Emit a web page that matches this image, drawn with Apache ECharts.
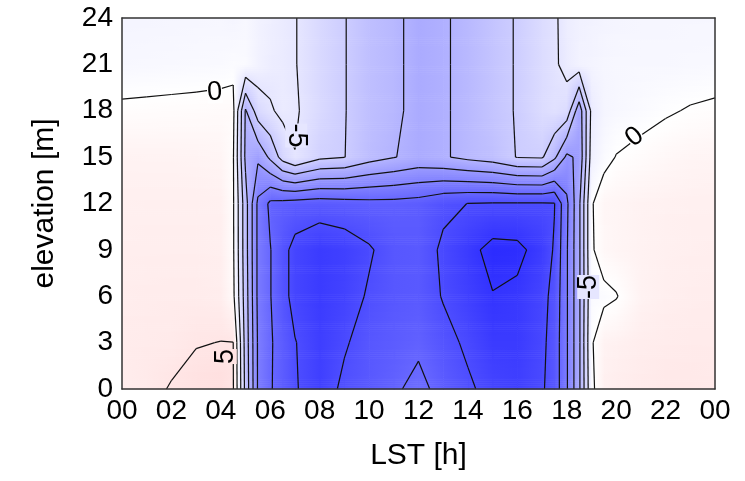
<!DOCTYPE html>
<html>
<head>
<meta charset="utf-8">
<script src="https://cdn.jsdelivr.net/npm/echarts@6/dist/echarts.min.js"></script>
<style>
  html, body { margin: 0; background: #fff; }
  #chart { width: 745px; height: 481px; }
</style>
</head>
<body>
<div id="chart"></div>
<script>
// grid nodes (hour of day, elevation in m)
const hours = [0, 1, 2, 3, 4, 4.5, 5, 5.5, 6, 6.5, 7, 8, 9, 10, 11, 12, 13, 14, 15, 16, 17, 17.5, 18, 18.5, 19, 19.5, 20, 21, 22, 23, 24];
const heights = [0, 3, 6, 9, 12, 15, 18, 21, 24];

// one row of values per elevation
const at0m  = [3.5, 4.2, 5.2, 6, 6.5, 5.3, -11.5, -25.5, -29.6, -32, -34.6, -37.5, -34, -32.5, -30.8, -28.5, -31.8, -34.3, -36.5, -37.5, -35.5, -33, -25.5, -16, -1, 3, 3.5, 4, 4.5, 4.5, 4.3];
const at3m  = [3.8, 4, 4.1, 4.85, 5.05, 5.05, -12, -25.5, -29.5, -32, -34.8, -37.8, -35.5, -33, -32, -31, -33.5, -35.8, -38.5, -38.5, -36, -33, -25.5, -16, -0.4, 2.5, 2.8, 3.5, 3.8, 4, 4];
const at6m  = [3.5, 3.7, 3.8, 3.8, 3.5, 1, -12.5, -26, -29.8, -33.5, -36.5, -38.5, -37, -34.5, -33, -32.5, -35.3, -37.5, -39.8, -39, -36.5, -33.5, -25.5, -16, -1, -0.8, -0.2, 2.5, 3.2, 3.5, 3.6];
const at9m  = [3.3, 3.4, 3.4, 3.4, 3.2, 0.6, -13, -26, -29.8, -33.5, -36.5, -38.5, -37.5, -35.5, -33, -32.5, -35.8, -38.5, -41.5, -41.2, -38, -34.5, -25.5, -16, -0.4, 1.5, 2, 2.5, 3, 3.2, 3.3];
const at12m = [3, 3.1, 3.1, 3.1, 3, 0.5, -13, -26, -31, -31.5, -32, -32.5, -32, -31.5, -31.5, -32, -34, -35.05, -35.3, -35.3, -35.3, -35.2, -26, -16, -0.3, 1.8, 2, 2.5, 2.8, 3, 3];
const at15m = [2.5, 2.4, 2.4, 2.3, 2, 0.4, -16, -19, -14, -8, -5.1, -9, -9.9, -13, -14.8, -16.5, -15.5, -13.8, -12.5, -9.8, -9.5, -14, -21, -19, -3, -1, 0.1, 0.8, 1.5, 2, 2.2];
const at18m = [0.5, 0.6, 0.7, 0.8, 1, 1, -15.5, -7.5, -5.5, -4, -4.5, -7.3, -9.8, -12.5, -14, -16.5, -15.5, -13.8, -11.5, -9.7, -6.8, -6, -7, -18, -4, -2, -1.5, -0.9, -0.3, 0.2, 0.5];
const at21m = [-1.5, -1.4, -1.3, -1.2, -1.1, -0.8, -1, -2.5, -3.5, -4, -4.8, -7.5, -9.8, -12.5, -14, -16.5, -15.5, -13.8, -11.5, -9.7, -6.8, -5.6, -3.8, -2.5, -2.2, -1.8, -1.6, -1.5, -1.5, -1.4, -1.3];
const at24m = [-2, -2, -1.9, -1.8, -1.7, -2, -1.5, -2.5, -3.2, -4, -4.8, -7.5, -9.8, -12.5, -14, -16.5, -15.5, -13.8, -11.5, -9.7, -6.8, -5.6, -3.5, -2.8, -2.5, -2.2, -2, -1.8, -1.8, -1.7, -1.7];
const rows = [at0m, at3m, at6m, at9m, at12m, at15m, at18m, at21m, at24m];

const levels = [-40, -35, -30, -25, -20, -15, -10, -5, 0, 5];
const hourTicks = ['00', '02', '04', '06', '08', '10', '12', '14', '16', '18', '20', '22', '00'];
const elevTicks = ['0', '3', '6', '9', '12', '15', '18', '21', '24'];

// where the contour values are written (hour, elevation, angle)
const contourLabels = [
  ['0', 3.75, 19.2, 4],
  ['-5', 7.05, 16.4, -90],
  ['0', 20.75, 16.3, 38],
  ['5', 4.2, 2.1, 90],
  ['-5', 18.87, 6.6, 90]
];

const FONT = '"Liberation Sans", Arial, sans-serif';
const SPAN = 50;

function colorOf(v) {
  const t = Math.min(1, Math.abs(v) / SPAN);
  const c = Math.round(255 * (1 - t));
  return v < 0 ? `rgb(${c},${c},255)` : `rgb(255,${c},${c})`;
}

function valueAt(x, y) {
  let i = 0, j = 0;
  while (i < hours.length - 2 && x > hours[i + 1]) i++;
  while (j < heights.length - 2 && y > heights[j + 1]) j++;
  const tx = (x - hours[i]) / (hours[i + 1] - hours[i]);
  const ty = (y - heights[j]) / (heights[j + 1] - heights[j]);
  const a = rows[j][i] + (rows[j][i + 1] - rows[j][i]) * tx;
  const b = rows[j + 1][i] + (rows[j + 1][i + 1] - rows[j + 1][i]) * tx;
  return a + (b - a) * ty;
}

const cells = [];
for (let j = 0; j < heights.length - 1; j++) {
  for (let i = 0; i < hours.length - 1; i++) cells.push([i, j]);
}

function cellCorners(api) {
  const i = api.value(0), j = api.value(1);
  return {
    p00: api.coord([hours[i], heights[j]]),
    p11: api.coord([hours[i + 1], heights[j + 1]]),
    v00: rows[j][i], v10: rows[j][i + 1],
    v01: rows[j + 1][i], v11: rows[j + 1][i + 1]
  };
}

// smooth shading: thin strips, each with a horizontal gradient
function renderShade(params, api) {
  const c = cellCorners(api);
  const left = c.p00[0], right = c.p11[0], bottom = c.p00[1], top = c.p11[1];
  const h = bottom - top;
  const n = Math.max(1, Math.ceil(h / 2));
  const children = [];
  for (let k = 0; k < n; k++) {
    const t = (k + 0.5) / n;
    const vl = c.v00 + (c.v01 - c.v00) * t;
    const vr = c.v10 + (c.v11 - c.v10) * t;
    const stops = [{ offset: 0, color: colorOf(vl) }];
    if (vl * vr < 0) stops.push({ offset: vl / (vl - vr), color: '#fff' });
    stops.push({ offset: 1, color: colorOf(vr) });
    children.push({
      type: 'rect',
      silent: true,
      shape: { x: left, y: bottom - h * (k + 1) / n, width: right - left + 0.6, height: h / n + 0.6 },
      style: { fill: new echarts.graphic.LinearGradient(0, 0, 1, 0, stops) }
    });
  }
  return { type: 'group', children };
}

// marching squares in each cell
function renderContour(params, api) {
  const c = cellCorners(api);
  const x0 = c.p00[0], x1 = c.p11[0], y0 = c.p00[1], y1 = c.p11[1];
  const children = [];
  levels.forEach(L => {
    const s00 = c.v00 >= L, s10 = c.v10 >= L, s11 = c.v11 >= L, s01 = c.v01 >= L;
    const cross = (va, vb) => (L - va) / (vb - va);
    const pts = {};
    if (s00 !== s10) pts.b = [x0 + (x1 - x0) * cross(c.v00, c.v10), y0];
    if (s10 !== s11) pts.r = [x1, y0 + (y1 - y0) * cross(c.v10, c.v11)];
    if (s01 !== s11) pts.t = [x0 + (x1 - x0) * cross(c.v01, c.v11), y1];
    if (s00 !== s01) pts.l = [x0, y0 + (y1 - y0) * cross(c.v00, c.v01)];
    const keys = Object.keys(pts);
    let pairs = [];
    if (keys.length === 2) pairs = [[pts[keys[0]], pts[keys[1]]]];
    else if (keys.length === 4) {
      const mid = (c.v00 + c.v10 + c.v11 + c.v01) / 4 >= L;
      if (mid === s00) pairs = [[pts.b, pts.r], [pts.t, pts.l]];
      else pairs = [[pts.l, pts.b], [pts.r, pts.t]];
    }
    pairs.forEach(p => children.push({
      type: 'line',
      silent: true,
      shape: { x1: p[0][0], y1: p[0][1], x2: p[1][0], y2: p[1][1] },
      style: { stroke: '#111', lineWidth: 1.2 }
    }));
  });
  return { type: 'group', children };
}

function renderLabel(params, api) {
  const item = contourLabels[params.dataIndex];
  const p = api.coord([item[1], item[2]]);
  return {
    type: 'text',
    x: p[0], y: p[1],
    rotation: item[3] * Math.PI / 180,
    silent: true,
    style: {
      text: item[0],
      fontSize: 27,
      fontFamily: FONT,
      fill: '#000',
      align: 'center',
      verticalAlign: 'middle',
      lineHeight: 22,
      backgroundColor: colorOf(valueAt(item[1], item[2]))
    }
  };
}

const frame = { show: true, onZero: false, lineStyle: { color: '#333', width: 1.5 } };

const chart = echarts.init(document.getElementById('chart'), null, { renderer: 'canvas' });
chart.setOption({
  animation: false,
  backgroundColor: '#fff',
  grid: { left: 122, right: 30, top: 18, bottom: 92, containLabel: false },
  xAxis: [
    {
      type: 'value', min: 0, max: 24, interval: 2, z: 10,
      axisLine: frame, axisTick: { show: false }, splitLine: { show: false },
      axisLabel: { fontSize: 28, color: '#000', fontFamily: FONT, margin: 8,
        formatter: v => hourTicks[Math.round(v / 2)] },
      name: 'LST [h]', nameLocation: 'middle', nameGap: 52,
      nameTextStyle: { fontSize: 30, color: '#000', fontFamily: FONT }
    },
    {
      type: 'value', min: 0, max: 24, position: 'top', z: 10,
      axisLine: frame, axisTick: { show: false }, axisLabel: { show: false }, splitLine: { show: false }
    }
  ],
  yAxis: [
    {
      type: 'value', min: 0, max: 24, interval: 3, z: 10,
      axisLine: frame, axisTick: { show: false }, splitLine: { show: false },
      axisLabel: { fontSize: 28, color: '#000', fontFamily: FONT, margin: 9,
        formatter: v => elevTicks[Math.round(v / 3)] },
      name: 'elevation [m]', nameLocation: 'middle', nameGap: 62, nameRotate: 90,
      nameTextStyle: { fontSize: 30, color: '#000', fontFamily: FONT }
    },
    {
      type: 'value', min: 0, max: 24, position: 'right', z: 10,
      axisLine: frame, axisTick: { show: false }, axisLabel: { show: false }, splitLine: { show: false }
    }
  ],
  series: [
    { type: 'custom', z: 2, renderItem: renderShade, data: cells, silent: true },
    { type: 'custom', z: 3, renderItem: renderContour, data: cells, silent: true },
    { type: 'custom', z: 4, renderItem: renderLabel, data: contourLabels.map(d => [d[1], d[2]]), silent: true }
  ]
});
</script>
</body>
</html>
